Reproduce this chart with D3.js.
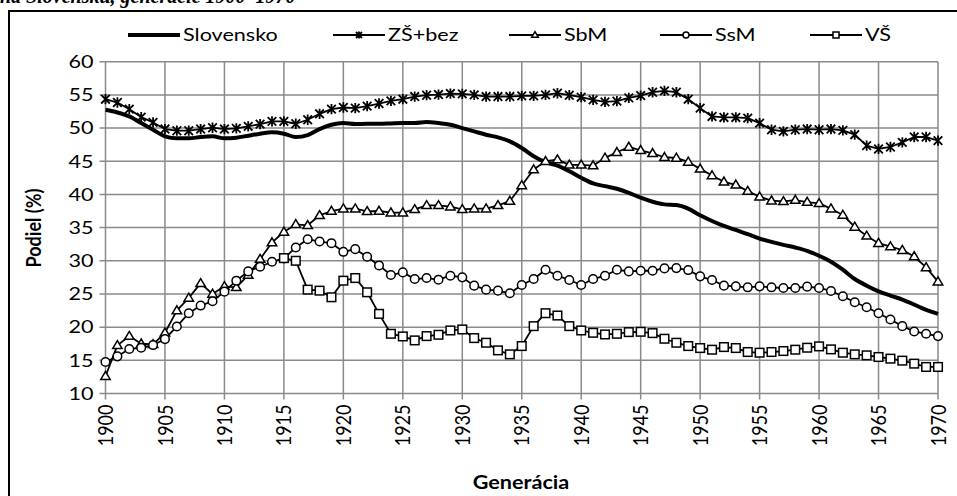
<!DOCTYPE html>
<html>
<head>
<meta charset="utf-8">
<script src="https://cdn.jsdelivr.net/npm/d3@7"></script>
<style>
  body { margin: 0; background: #fff; }
  svg { display: block; }
</style>
</head>
<body>
<div class="canvas"></div>
<script>
// data (generácie 1900-1970)
const years = d3.range(1900, 1971);
const slovensko = [52.75, 52.35, 51.75, 50.75, 49.75, 48.75, 48.45, 48.45, 48.65, 48.75,
  48.45, 48.55, 48.85, 49.15, 49.35, 49.15, 48.65, 48.95, 49.85, 50.5,
  50.75, 50.6, 50.65, 50.65, 50.7, 50.75, 50.75, 50.9, 50.75, 50.5,
  50.0, 49.5, 49.0, 48.6, 48.0, 47.0, 45.75, 44.85, 44.35, 43.5,
  42.5, 41.65, 41.25, 40.85, 40.25, 39.5, 38.9, 38.5, 38.4, 37.85,
  36.85, 36.0, 35.25, 34.65, 34.0, 33.35, 32.85, 32.4, 32.0, 31.5,
  30.75, 29.85, 28.65, 27.25, 26.25, 25.4, 24.75, 24.15, 23.4, 22.6, 22.0];
const zsBez = [54.35, 53.85, 52.85, 51.65, 50.85, 49.85, 49.6, 49.6, 49.85, 50.05,
  49.85, 49.95, 50.25, 50.6, 51.0, 51.0, 50.65, 51.25, 52.15, 52.85,
  53.1, 53.0, 53.3, 53.7, 54.1, 54.35, 54.75, 54.95, 55.05, 55.2,
  55.15, 55.0, 54.75, 54.75, 54.75, 54.85, 54.85, 55.0, 55.25, 54.95,
  54.65, 54.25, 53.95, 54.05, 54.55, 54.9, 55.4, 55.6, 55.4, 54.35,
  53.0, 51.75, 51.6, 51.6, 51.5, 50.75, 49.75, 49.5, 49.75, 49.85,
  49.75, 49.85, 49.65, 49.0, 47.35, 46.85, 47.15, 47.85, 48.65, 48.65, 48.1];
const sbm = [12.6, 17.25, 18.65, 17.5, 17.4, 19.15, 22.5, 24.4, 26.6, 25.0,
  26.15, 26.0, 27.85, 30.25, 32.75, 34.35, 35.5, 35.35, 36.85, 37.5,
  37.85, 37.85, 37.45, 37.5, 37.25, 37.25, 37.75, 38.35, 38.35, 38.15,
  37.75, 37.85, 37.85, 38.35, 39.0, 41.35, 43.75, 45.0, 45.25, 44.45,
  44.45, 44.35, 45.5, 46.35, 47.15, 46.65, 46.2, 45.6, 45.5, 44.9,
  43.85, 42.85, 41.9, 41.45, 40.5, 39.65, 39.05, 38.95, 39.15, 38.85,
  38.65, 37.85, 36.9, 35.1, 33.75, 32.65, 32.15, 31.6, 30.65, 29.0, 26.85];
const ssm = [14.75, 15.6, 16.7, 16.9, 17.3, 18.2, 20.1, 22.1, 23.25, 23.9,
  25.35, 27.0, 28.4, 29.1, 29.85, 30.35, 32.0, 33.25, 32.9, 32.65,
  31.35, 31.75, 30.6, 29.3, 27.85, 28.25, 27.25, 27.4, 27.15, 27.75,
  27.5, 26.25, 25.65, 25.5, 25.1, 26.35, 27.25, 28.65, 27.75, 27.1,
  26.35, 27.25, 27.75, 28.65, 28.4, 28.5, 28.5, 28.85, 28.9, 28.6,
  27.65, 27.1, 26.25, 26.15, 26.0, 26.15, 26.0, 25.9, 25.9, 26.1,
  25.9, 25.45, 24.65, 23.75, 23.0, 22.1, 21.15, 20.15, 19.35, 19.0, 18.65];
const vs = [null, null, null, null, null, null, null, null, null, null,
  null, null, null, null, null, 30.4, 30.0, 25.65, 25.5, 24.5,
  27.0, 27.4, 25.25, 22.0, 19.0, 18.6, 18.0, 18.65, 18.85, 19.5,
  19.65, 18.35, 17.65, 16.5, 15.9, 17.15, 20.15, 22.1, 21.75, 20.15,
  19.5, 19.15, 18.9, 19.0, 19.25, 19.3, 19.1, 18.25, 17.65, 17.15,
  16.85, 16.6, 17.0, 16.85, 16.25, 16.15, 16.25, 16.4, 16.6, 16.9,
  17.1, 16.65, 16.15, 15.9, 15.75, 15.5, 15.25, 14.95, 14.5, 14.0, 14.0];
const seriesNames = ["Slovensko", "ZŠ+bez", "SbM", "SsM", "VŠ"];
const seriesMarkers = ["none", "star", "triangle", "circle", "square"];
const yTicks = d3.range(10, 61, 5);
const xTicks = d3.range(1900, 1971, 5);

// dimensions
const w = 957;
const h = 496;
const plot = { left: 105.5, right: 938, top: 61.7, bottom: 393.5 };
const stretch = 1.2; // text in the picture is a bit wide
const font = "Lato, 'Open Sans', sans-serif";

const svg = d3.select(".canvas").append("svg").attr("width", w).attr("height", h);

// cut-off caption above the frame
svg.append("text")
  .attr("x", 0)
  .attr("y", 3)
  .attr("font-family", "'Liberation Serif', serif")
  .attr("font-weight", "bold")
  .attr("font-style", "italic")
  .attr("font-size", 20)
  .text("na Slovensku, generácie 1900–1970");

// chart frame
svg.append("rect")
  .attr("x", 9).attr("y", 11)
  .attr("width", 1000).attr("height", 600)
  .attr("fill", "none").attr("stroke", "#000").attr("stroke-width", 2);

const x = d3.scaleLinear().domain([1900, 1970]).range([plot.left, plot.right]);
const y = d3.scaleLinear().domain([10, 60]).range([plot.bottom, plot.top]);

const grid = "#8a8a8a";

// gridlines
svg.append("g").selectAll("line").data(yTicks).enter().append("line")
  .attr("x1", plot.left - 6).attr("x2", plot.right)
  .attr("y1", (d) => y(d)).attr("y2", (d) => y(d))
  .attr("stroke", grid).attr("stroke-width", 1.5);
svg.append("g").selectAll("line").data(xTicks).enter().append("line")
  .attr("x1", (d) => x(d)).attr("x2", (d) => x(d))
  .attr("y1", plot.top).attr("y2", plot.bottom + 6)
  .attr("stroke", grid).attr("stroke-width", 1.5);

// y tick labels
svg.append("g").selectAll("text").data(yTicks).enter().append("text")
  .attr("transform", (d) => `translate(${plot.left - 12}, ${y(d)}) scale(${stretch},1)`)
  .attr("text-anchor", "end")
  .attr("dy", "0.35em")
  .attr("font-family", font).attr("font-size", 18)
  .text((d) => d);

// x tick labels, rotated
svg.append("g").selectAll("text").data(xTicks).enter().append("text")
  .attr("transform", (d) => `translate(${x(d)}, ${plot.bottom + 11}) scale(${stretch},1) rotate(-90)`)
  .attr("text-anchor", "end")
  .attr("dy", "0.35em")
  .attr("font-family", font).attr("font-size", 18)
  .text((d) => d);

// axis titles
svg.append("text")
  .attr("transform", `translate(33, 228) scale(${stretch},1) rotate(-90)`)
  .attr("text-anchor", "middle").attr("dy", "0.35em")
  .attr("font-family", font).attr("font-size", 18).attr("font-weight", "bold")
  .text("Podiel (%)");
svg.append("text")
  .attr("transform", `translate(521, 489) scale(${stretch},1)`)
  .attr("text-anchor", "middle")
  .attr("font-family", font).attr("font-size", 18).attr("font-weight", "bold")
  .text("Generácia");

// markers
function drawMarker(g, type, s) {
  if (type === "circle") {
    g.append("circle").attr("r", s).attr("fill", "#fff").attr("stroke", "#000").attr("stroke-width", 1.5);
  } else if (type === "square") {
    g.append("rect").attr("x", -s).attr("y", -s).attr("width", 2 * s).attr("height", 2 * s)
      .attr("fill", "#fff").attr("stroke", "#000").attr("stroke-width", 1.5);
  } else if (type === "triangle") {
    g.append("path").attr("d", `M0,${-s * 1.1}L${s * 1.1},${s * 0.75}L${-s * 1.1},${s * 0.75}Z`)
      .attr("fill", "#fff").attr("stroke", "#000").attr("stroke-width", 1.5);
  } else if (type === "star") {
    g.append("path").attr("d", `M${-s},${-s}L${s},${s}M${-s},${s}L${s},${-s}M0,${-s * 1.2}L0,${s * 1.2}`)
      .attr("fill", "none").attr("stroke", "#000").attr("stroke-width", 1.8);
  }
}

const allSeries = [slovensko, zsBez, sbm, ssm, vs];

allSeries.forEach((values, i) => {
  const pts = years.map((yr, j) => ({ yr: yr, v: values[j] })).filter((d) => d.v !== null);
  const line = d3.line()
    .x((d) => x(d.yr))
    .y((d) => y(d.v))
    .curve(i === 0 ? d3.curveMonotoneX : d3.curveLinear);
  svg.append("path")
    .datum(pts)
    .attr("d", line)
    .attr("fill", "none")
    .attr("stroke", "#000")
    .attr("stroke-width", i === 0 ? 4 : 1.8)
    .attr("stroke-linejoin", "round");
  if (seriesMarkers[i] !== "none") {
    svg.append("g").selectAll("g").data(pts).enter().append("g")
      .attr("transform", (d) => `translate(${x(d.yr)}, ${y(d.v)})`)
      .each(function () { drawMarker(d3.select(this), seriesMarkers[i], 4.3); });
  }
});

// legend
const legendX = [128, 333, 509, 660, 810];
const legendY = 35;
const legend = svg.append("g").attr("id", "legend");
seriesNames.forEach((name, i) => {
  const item = legend.append("g").attr("transform", `translate(${legendX[i]}, ${legendY})`);
  item.append("line")
    .attr("x1", 0).attr("x2", 52)
    .attr("stroke", "#000").attr("stroke-width", i === 0 ? 4 : 1.8);
  if (seriesMarkers[i] !== "none") {
    drawMarker(item.append("g").attr("transform", "translate(26,0)"), seriesMarkers[i], 3);
  }
  item.append("text")
    .attr("transform", `translate(55, 0) scale(${stretch},1)`)
    .attr("dy", "0.35em")
    .attr("font-family", font).attr("font-size", 18)
    .text(name);
});
</script>
</body>
</html>
